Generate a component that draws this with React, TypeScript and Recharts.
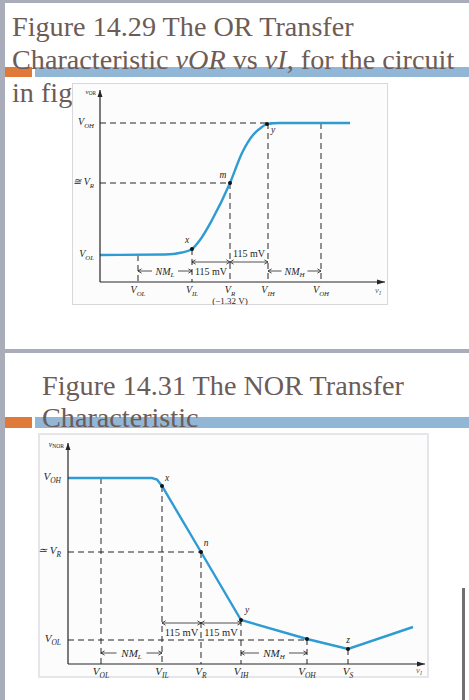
import React from "react"
import { LineChart, Line, XAxis, YAxis, ReferenceLine, ReferenceDot } from "recharts"

const SERIF = '"Liberation Serif", "Times New Roman", serif'
const INK = "#262626"
const BLUE = "#2f9bd3"
const TITLE = "#6d5b56"
const FRAME_BG = "#fcfcfc"

// ---- Fig 14.29, OR transfer characteristic (arbitrary units)
const orCurveX = [0, 6.5, 8.2, 9.2, 10.0, 11.2, 13.0, 14.2, 15.3, 16.2, 16.7, 18.0, 25.0]
const orCurveY = [2.7, 2.75, 2.95, 3.3, 4.2, 6.2, 9.9, 12.9, 14.7, 15.5, 15.8, 15.9, 15.9]
const orTicks = [3.8, 9.2, 13.0, 16.8, 22.1]
const orTickSubs = ["OL", "IL", "R", "IH", "OH"]
const orLevels = [2.7, 9.9, 15.9]
const orLevelSubs = ["OL", "R", "OH"]
const orLevelPre = ["", "≅ ", ""]
const orMax = { x: 28.5, y: 19.2 }

// ---- Fig 14.31, NOR transfer characteristic
const norCurveX = [0, 8.4, 8.9, 9.4, 13.3, 17.3, 23.9, 28.0, 34.5]
const norCurveY = [18.6, 18.6, 18.45, 17.8, 11.2, 4.4, 2.5, 1.5, 3.7]
const norTicks = [3.3, 9.4, 13.3, 17.3, 23.9, 28.0]
const norTickSubs = ["OL", "IL", "R", "IH", "OH", "S"]
const norLevels = [2.4, 11.2, 18.6]
const norLevelSubs = ["OL", "R", "OH"]
const norLevelPre = ["", "≃ ", ""]
const norMax = { x: 35.7, y: 22.1 }

const orData = orCurveX.map((x, i) => ({ x, y: orCurveY[i] }))
const norData = norCurveX.map((x, i) => ({ x, y: norCurveY[i] }))

const dash = { stroke: INK, strokeWidth: 1, strokeDasharray: "6 4" }

function VText({ x, y, sub, pre = "", anchor = "middle", size = 9 }: any) {
  return (
    <text x={x} y={y} textAnchor={anchor} fontFamily={SERIF} fontStyle="italic" fontSize={size} fill={INK}>
      {pre}V
      <tspan fontSize={size * 0.68} dy={size * 0.25}>{sub}</tspan>
    </text>
  )
}

const arrows = (label?: string, opts: any = {}) => (p: any) => {
  const { x1, y1, x2, y2 } = p
  const h = 3.6
  const mid = (x1 + x2) / 2
  return (
    <g>
      <line x1={x1} y1={y1} x2={x2} y2={y2} stroke={INK} strokeWidth={0.8} />
      <path
        d={`M${x1 + h},${y1 - h * 0.6} L${x1},${y1} L${x1 + h},${y1 + h * 0.6} M${x2 - h},${y2 - h * 0.6} L${x2},${y2} L${x2 - h},${y2 + h * 0.6}`}
        fill="none"
        stroke={INK}
        strokeWidth={0.8}
      />
      {label && (
        <g>
          <rect x={mid - opts.w / 2} y={y1 - 5} width={opts.w} height={10} fill={FRAME_BG} />
          <text x={mid} y={y1 + 3.5} textAnchor="middle" fontFamily={SERIF} fontStyle="italic" fontSize={opts.size || 10} fill={INK}>
            {label}
            <tspan fontSize={7} dy={2}>{opts.sub}</tspan>
          </text>
        </g>
      )}
    </g>
  )
}

const headUp = (title: string, sub: string, size: number) => (p: any) => (
  <g>
    <path d={`M${p.cx - 2.5},${p.cy + 7} L${p.cx},${p.cy} L${p.cx + 2.5},${p.cy + 7} Z`} fill={INK} />
    <text x={p.cx - 4} y={p.cy + 4} textAnchor="end" fontFamily={SERIF} fontStyle="italic" fontSize={size} fill={INK}>
      {title}
      <tspan fontStyle="normal" fontSize={size * 0.75} dy={1}>{sub}</tspan>
    </text>
  </g>
)

const headRight = (dx: number, dy: number) => (p: any) => (
  <g>
    <path d={`M${p.cx - 8},${p.cy - 2.5} L${p.cx},${p.cy} L${p.cx - 8},${p.cy + 2.5} Z`} fill={INK} />
    <text x={p.cx + dx} y={p.cy + dy} textAnchor="middle" fontFamily={SERIF} fontStyle="italic" fontSize={8.5} fill="#666">
      v<tspan fontSize={6} dy={1.5}>I</tspan>
    </text>
  </g>
)

const dot = (label: string, dx: number, dy: number) => (p: any) => (
  <g>
    <circle cx={p.cx} cy={p.cy} r={2} fill="#111" />
    {label && (
      <text x={p.cx + dx} y={p.cy + dy} textAnchor="middle" fontFamily={SERIF} fontStyle="italic" fontSize={9.5} fill={INK}>
        {label}
      </text>
    )}
  </g>
)

const mvText = (x: number, y: number, key: string, size: number) => (
  <ReferenceDot
    key={key}
    x={x}
    y={y}
    ifOverflow="visible"
    shape={(p: any) => (
      <text x={p.cx} y={p.cy + 3.5} textAnchor="middle" fontFamily={SERIF} fontSize={size} fill={INK}>
        115 mV
      </text>
    )}
  />
)

function OrChart() {
  const [VOL, VIL, VR, VIH, VOH] = orTicks
  const [LOL, LR, LOH] = orLevels
  return (
    <LineChart width={316} height={222} data={orData} margin={{ top: 7, right: 3, left: 0, bottom: 0 }}>
      <XAxis
        dataKey="x"
        type="number"
        domain={[0, orMax.x]}
        ticks={orTicks}
        tickLine={false}
        tickSize={0}
        axisLine={{ stroke: INK, strokeWidth: 1.2 }}
        height={23}
        tick={(p: any) => {
          const i = orTicks.indexOf(p.payload.value)
          return (
            <g>
              <VText x={p.x} y={p.y + 9} sub={orTickSubs[i]} size={10} />
              {i === 2 && (
                <text x={p.x} y={p.y + 20} textAnchor="middle" fontFamily={SERIF} fontSize={9} fill={INK}>
                  (−1.32 V)
                </text>
              )}
            </g>
          )
        }}
      />
      <YAxis
        type="number"
        domain={[0, orMax.y]}
        ticks={orLevels}
        width={28}
        tickLine={false}
        tickSize={0}
        axisLine={{ stroke: INK, strokeWidth: 1.2 }}
        tick={(p: any) => {
          const i = orLevels.indexOf(p.payload.value)
          return <VText x={p.x - 4} y={p.y + 2} sub={orLevelSubs[i]} pre={orLevelPre[i]} anchor="end" size={10} />
        }}
      />
      <ReferenceLine segment={[{ x: 0, y: LOH }, { x: VOH, y: LOH }]} {...dash} />
      <ReferenceLine segment={[{ x: 0, y: LR }, { x: VR, y: LR }]} {...dash} />
      <ReferenceLine segment={[{ x: VOL, y: LOL }, { x: VOL, y: 0 }]} {...dash} />
      <ReferenceLine segment={[{ x: VIL, y: 3.3 }, { x: VIL, y: 0 }]} {...dash} />
      <ReferenceLine segment={[{ x: VR, y: LR }, { x: VR, y: 0 }]} {...dash} />
      <ReferenceLine segment={[{ x: VIH, y: LOH }, { x: VIH, y: 0 }]} {...dash} />
      <ReferenceLine segment={[{ x: VOH, y: LOH }, { x: VOH, y: 0 }]} {...dash} />
      <ReferenceLine segment={[{ x: VIL, y: 2.0 }, { x: VR, y: 2.0 }]} shape={arrows()} />
      <ReferenceLine segment={[{ x: VR, y: 2.0 }, { x: VIH, y: 2.0 }]} shape={arrows()} />
      <ReferenceLine segment={[{ x: VOL, y: 1.1 }, { x: VIL, y: 1.1 }]} shape={arrows("NM", { w: 26, sub: "L" })} />
      <ReferenceLine segment={[{ x: VIH, y: 1.1 }, { x: VOH, y: 1.1 }]} shape={arrows("NM", { w: 26, sub: "H" })} />
      {mvText((VR + VIH) / 2, 2.9, "mv1", 10)}
      {mvText((VIL + VR) / 2, 1.1, "mv2", 10)}
      <Line type="monotone" dataKey="y" stroke={BLUE} strokeWidth={2.4} dot={false} isAnimationActive={false} />
      <ReferenceDot x={9.2} y={3.3} ifOverflow="visible" shape={dot("x", -5, -6)} />
      <ReferenceDot x={VR} y={LR} ifOverflow="visible" shape={dot("m", -7, -5)} />
      <ReferenceDot x={16.7} y={15.8} ifOverflow="visible" shape={dot("y", 6, 9)} />
      <ReferenceDot x={0} y={orMax.y} ifOverflow="visible" shape={headUp("v", "OR", 7)} />
      <ReferenceDot x={orMax.x} y={0} ifOverflow="visible" shape={headRight(-7, 11)} />
    </LineChart>
  )
}

function NorChart() {
  const [VOL, VIL, VR, VIH, VOH, VS] = norTicks
  const [LOL, LR, LOH] = norLevels
  return (
    <LineChart width={391} height={255} data={norData} margin={{ top: 10, right: 4, left: 0, bottom: 0 }}>
      <XAxis
        dataKey="x"
        type="number"
        domain={[0, norMax.x]}
        ticks={norTicks}
        tickLine={false}
        tickSize={0}
        axisLine={{ stroke: INK, strokeWidth: 1.2 }}
        height={24}
        tick={(p: any) => {
          const i = norTicks.indexOf(p.payload.value)
          return <VText x={p.x} y={p.y + 9} sub={norTickSubs[i]} size={11} />
        }}
      />
      <YAxis
        type="number"
        domain={[0, norMax.y]}
        ticks={norLevels}
        width={30}
        tickLine={false}
        tickSize={0}
        axisLine={{ stroke: INK, strokeWidth: 1.2 }}
        tick={(p: any) => {
          const i = norLevels.indexOf(p.payload.value)
          return <VText x={p.x - 5} y={p.y + 2} sub={norLevelSubs[i]} pre={norLevelPre[i]} anchor="end" size={11} />
        }}
      />
      <ReferenceLine segment={[{ x: 0, y: LR }, { x: VR, y: LR }]} {...dash} />
      <ReferenceLine segment={[{ x: 0, y: LOL }, { x: VOH, y: LOL }]} {...dash} />
      <ReferenceLine segment={[{ x: VOL, y: LOH }, { x: VOL, y: 0 }]} {...dash} />
      <ReferenceLine segment={[{ x: VIL, y: 17.8 }, { x: VIL, y: 0 }]} {...dash} />
      <ReferenceLine segment={[{ x: VR, y: LR }, { x: VR, y: 0 }]} {...dash} />
      <ReferenceLine segment={[{ x: VIH, y: 4.4 }, { x: VIH, y: 0 }]} {...dash} />
      <ReferenceLine segment={[{ x: VOH, y: 2.5 }, { x: VOH, y: 0 }]} {...dash} />
      <ReferenceLine segment={[{ x: VS, y: 1.5 }, { x: VS, y: 0 }]} {...dash} />
      <ReferenceLine segment={[{ x: VIL, y: 4.1 }, { x: VR, y: 4.1 }]} shape={arrows()} />
      <ReferenceLine segment={[{ x: VR, y: 4.1 }, { x: VIH, y: 4.1 }]} shape={arrows()} />
      <ReferenceLine segment={[{ x: VOL, y: 1.1 }, { x: VIL, y: 1.1 }]} shape={arrows("NM", { w: 30, sub: "L", size: 11 })} />
      <ReferenceLine segment={[{ x: VIH, y: 1.1 }, { x: VOH, y: 1.1 }]} shape={arrows("NM", { w: 30, sub: "H", size: 11 })} />
      {mvText((VIL + VR) / 2, 3.2, "mv1", 10.5)}
      {mvText((VR + VIH) / 2, 3.2, "mv2", 10.5)}
      <Line type="linear" dataKey="y" stroke={BLUE} strokeWidth={2.4} dot={false} isAnimationActive={false} />
      <ReferenceDot x={VIL} y={17.8} ifOverflow="visible" shape={dot("x", 5, -5)} />
      <ReferenceDot x={VR} y={LR} ifOverflow="visible" shape={dot("n", 5, -6)} />
      <ReferenceDot x={VIH} y={4.4} ifOverflow="visible" shape={dot("y", 6, -7)} />
      <ReferenceDot x={VOH} y={2.5} ifOverflow="visible" shape={dot("", 0, 0)} />
      <ReferenceDot x={VS} y={1.5} ifOverflow="visible" shape={dot("z", 0, -6)} />
      <ReferenceDot x={0} y={norMax.y} ifOverflow="visible" shape={headUp("v", "NOR", 7.5)} />
      <ReferenceDot x={norMax.x} y={0} ifOverflow="visible" shape={headRight(-6, 9)} />
    </LineChart>
  )
}

const titleStyle: React.CSSProperties = {
  position: "absolute",
  fontFamily: SERIF,
  fontSize: 28.2,
  lineHeight: "33px",
  color: TITLE,
  whiteSpace: "nowrap",
}

export default function App() {
  return (
    <div style={{ position: "absolute", left: 0, top: 0, width: 469, height: 700, overflow: "hidden", background: "#fff" }}>
      {/* slide chrome */}
      <div style={{ position: "absolute", left: 0, top: 0, width: 5, height: 700, background: "#a9adb9" }} />
      <div style={{ position: "absolute", left: 0, top: 0, width: 469, height: 3, background: "#a9adb9" }} />
      <div style={{ position: "absolute", left: 5, top: 349, width: 464, height: 4, background: "#a9adb9" }} />
      <div style={{ position: "absolute", left: 462, top: 588, width: 3, height: 112, background: "#707070" }} />

      {/* slide 1 */}
      <div style={{ position: "absolute", left: 5, top: 67, width: 27, height: 10, background: "#e07a3a" }} />
      <div style={{ position: "absolute", left: 35, top: 67, width: 434, height: 10, background: "#92b6d6" }} />
      <div style={{ ...titleStyle, left: 12, top: 9.5 }}>
        Figure 14.29 The OR Transfer
        <br />
        Characteristic <i>vOR</i> vs <i>vI</i>, for the circuit
        <br />
        in fig
      </div>
      <div style={{ position: "absolute", left: 72, top: 83, width: 316, height: 222, boxSizing: "border-box", border: "1px solid #d8d8dc", background: FRAME_BG }} />
      <div style={{ position: "absolute", left: 72, top: 83 }}>
        <OrChart />
      </div>

      {/* slide 2 */}
      <div style={{ position: "absolute", left: 5, top: 417, width: 27, height: 11, background: "#e07a3a" }} />
      <div style={{ position: "absolute", left: 35, top: 417, width: 434, height: 11, background: "#92b6d6" }} />
      <div style={{ ...titleStyle, left: 42, top: 369.5, lineHeight: "32px" }}>
        Figure 14.31 The NOR Transfer
        <br />
        Characteristic
      </div>
      <div style={{ position: "absolute", left: 38, top: 433, width: 391, height: 245, boxSizing: "border-box", border: "2px solid #e6e6ea", background: FRAME_BG }} />
      <div style={{ position: "absolute", left: 38, top: 433 }}>
        <NorChart />
      </div>
    </div>
  )
}
